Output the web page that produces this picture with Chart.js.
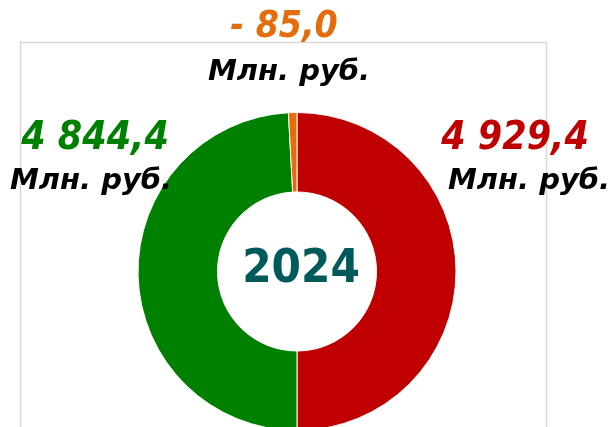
<!DOCTYPE html>
<html>
<head>
<meta charset="utf-8">
<script src="https://cdn.jsdelivr.net/npm/chart.js@4/dist/chart.umd.min.js"></script>
<style>
  html, body { margin: 0; padding: 0; background: #ffffff; overflow: hidden; }
  #wrap { width: 615px; height: 432px; position: relative; }
</style>
</head>
<body>
<div id="wrap"><canvas id="grafico"></canvas></div>
<script>
// datos del grafico
const categorias = ['Доходы', 'Расходы', 'Дефицит'];
const valores = [4929.4, 4844.4, 85.0];
const etiquetas = ['4 929,4', '4 844,4', '- 85,0'];
const colores = ['#C00000', '#008000', '#E46C0A'];
const unidad = 'Млн. руб.';
const anio = '2024';

// marco gris y textos
const textos = {
  id: 'textos',
  beforeDraw(chart) {
    const ctx = chart.ctx;
    ctx.save();
    ctx.strokeStyle = '#D9D9D9';
    ctx.lineWidth = 1.5;
    ctx.strokeRect(20.5, 42.5, 526, 420);
    ctx.restore();
  },
  afterDraw(chart) {
    const ctx = chart.ctx;
    ctx.save();
    ctx.textAlign = 'center';
    ctx.textBaseline = 'middle';

    function txt(s, x, y, size, color, italic, cond) {
      const fam = cond ? '"DejaVu Sans Condensed", "DejaVu Sans", sans-serif' : '"DejaVu Sans", sans-serif';
      ctx.font = (italic ? 'italic ' : '') + 'bold ' + size + 'px ' + fam;
      ctx.fillStyle = color;
      ctx.fillText(s, x, y);
    }

    // arriba (naranja)
    txt(etiquetas[2], 284, 27, 37, colores[2], true, true);
    txt(unidad, 289, 72, 29, '#000000', true, false);
    // izquierda (verde)
    txt(etiquetas[1], 95, 139, 39, colores[1], true, true);
    txt(unidad, 91, 181, 29, '#000000', true, false);
    // derecha (rojo)
    txt(etiquetas[0], 515, 139, 39, colores[0], true, true);
    txt(unidad, 529, 181, 29, '#000000', true, false);
    // centro
    txt(anio, 301, 270, 47, '#005A5A', false, true);
    ctx.restore();
  }
};

const ctx = document.getElementById('grafico').getContext('2d');
new Chart(ctx, {
  type: 'doughnut',
  data: {
    labels: categorias,
    datasets: [{
      data: valores,
      backgroundColor: colores,
      borderColor: '#ffffff',
      borderWidth: 1,
      hoverOffset: 0
    }]
  },
  options: {
    responsive: true,
    maintainAspectRatio: false,
    animation: false,
    cutout: '50%',
    layout: {
      padding: { left: 137.5, right: 158.5, top: 112, bottom: 1 }
    },
    plugins: {
      legend: { display: false },
      tooltip: { enabled: false }
    }
  },
  plugins: [textos]
});
</script>
</body>
</html>
